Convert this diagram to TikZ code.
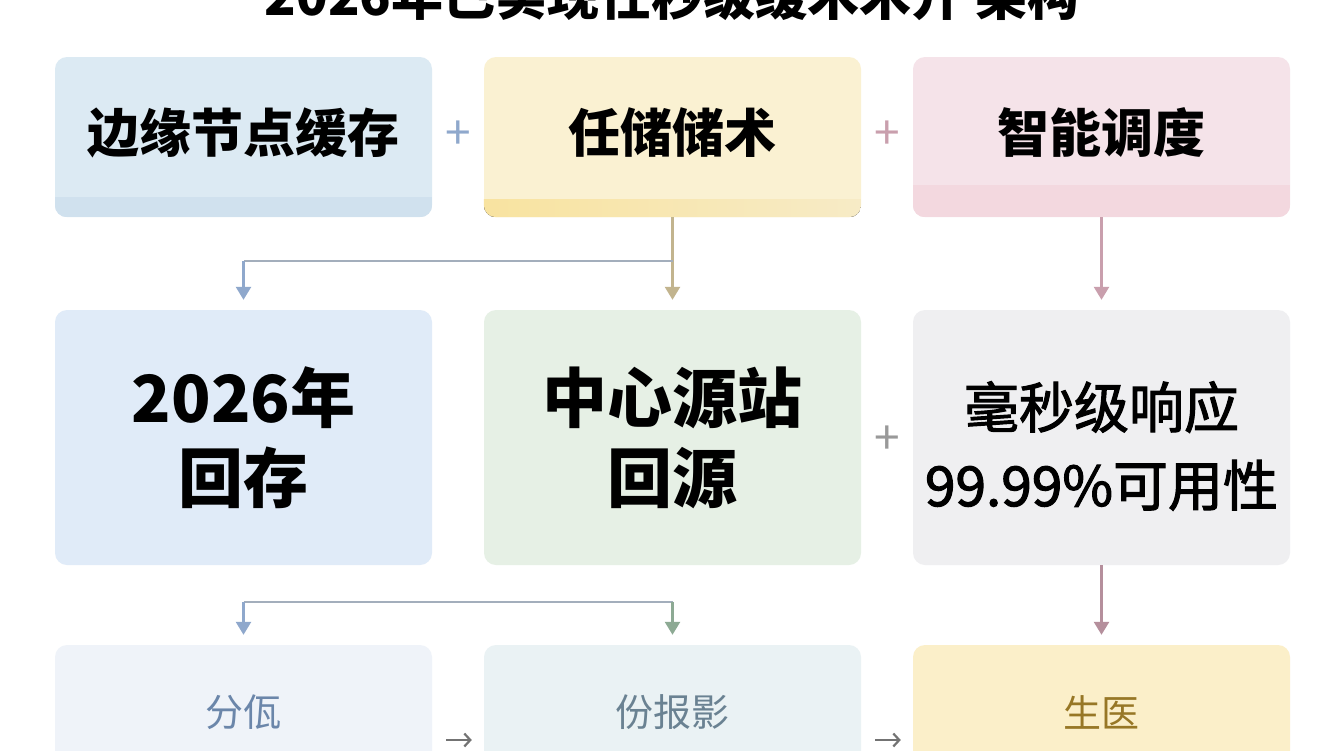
\documentclass[tikz,border=0pt]{standalone}
\usepackage{fontspec}
\newfontfamily\cjk{Noto Sans CJK SC}
\usetikzlibrary{arrows.meta}
\definecolor{eA}{HTML}{DCEAF3}\definecolor{eAb}{HTML}{D0E1EE}
\definecolor{eB}{HTML}{FAF1D2}\definecolor{eBl}{HTML}{F8E3A0}\definecolor{eBr}{HTML}{F7EBC6}
\definecolor{eC}{HTML}{F5E3E9}\definecolor{eCb}{HTML}{F3D8DF}
\definecolor{mA}{HTML}{E0EBF8}\definecolor{mB}{HTML}{E6F0E5}\definecolor{mC}{HTML}{EFEFF1}
\definecolor{bA}{HTML}{EFF3F9}\definecolor{bB}{HTML}{EAF2F4}\definecolor{bC}{HTML}{FBEFC9}
\definecolor{lblue}{HTML}{8FA8CC}\definecolor{ltan}{HTML}{C2B48E}\definecolor{lpink}{HTML}{C99FAD}
\definecolor{lgrey}{HTML}{A3AEBC}\definecolor{lgreen}{HTML}{8DAA94}
\definecolor{tA}{HTML}{6B86AA}\definecolor{tB}{HTML}{6A8292}\definecolor{tC}{HTML}{977726}
\tikzset{
  box/.style={rounded corners=12pt, minimum width=377pt, inner sep=0pt, align=center, font=\cjk},
  toprow/.style={box, minimum height=160pt},
  midrow/.style={box, minimum height=255pt},
  lowrow/.style={box, minimum height=190pt},
  conn/.style={line width=2.6pt, -{Triangle[width=15pt,length=13pt]}, shorten >=10pt},
  plain/.style={line width=2.8pt},
  plus/.style={font=\cjk\fontsize{46}{46}\selectfont, inner sep=0pt},
  smallarr/.style={line width=2.2pt, draw=black!55, -{Straight Barb[length=6pt,width=13pt]}, shorten <=14pt, shorten >=12pt}
}
\begin{document}
\begin{tikzpicture}[x=1pt,y=-1pt]
\clip (0,0) rectangle (1344,750);
\fill[white] (0,0) rectangle (1344,750);
% title
\node[anchor=base, inner sep=0pt, font=\cjk\bfseries\fontsize{52}{52}\selectfont] (title) at (672,15) {2026年已实现任秒级缓术术开 架构};
% row 1
\node[toprow, fill=eA] (e1) at (243.5,137) {};
\node[toprow, fill=eB] (e2) at (672.5,137) {};
\node[toprow, fill=eC] (e3) at (1101.5,137) {};
\begin{scope}
\clip[rounded corners=12pt] (e1.south west) rectangle (e1.north east);
\fill[eAb] (e1.south west) rectangle ++(377,-20);
\end{scope}
\begin{scope}
\clip[rounded corners=12pt] (e2.south west) rectangle (e2.north east);
\fill[left color=eBl, right color=eBr] (e2.south west) rectangle ++(377,-18);
\end{scope}
\begin{scope}
\clip[rounded corners=12pt] (e3.south west) rectangle (e3.north east);
\fill[eCb] (e3.south west) rectangle ++(377,-32);
\end{scope}
\node[font=\cjk\bfseries\fontsize{52}{52}\selectfont] (e1t) at (243.5,133) {边缘节点缓存};
\node[font=\cjk\bfseries\fontsize{52}{52}\selectfont] (e2t) at (672.5,133) {任储储术};
\node[font=\cjk\bfseries\fontsize{52}{52}\selectfont] (e3t) at (1101.5,133) {智能调度};
\node[plus, text=lblue] (p1) at (458.5,135) {+};
\node[plus, text=lpink] (p2) at (887,135) {+};
% row 2
\node[midrow, fill=mA, font=\cjk\bfseries\fontsize{65}{80}\selectfont] (m1) at (243.5,437.5) {2026年\\回存};
\node[midrow, fill=mB, font=\cjk\bfseries\fontsize{65}{80}\selectfont] (m2) at (672.5,437.5) {中心源站\\回源};
\node[midrow, fill=mC] (m3) at (1101.5,437.5) {};
\node[align=center, inner sep=0pt, font=\cjk\addfontfeatures{FakeBold=2}\fontsize{55}{78}\selectfont] (m3t) at (1101.5,446) {毫秒级响应\\99.99\%可用性};
\node[plus, text=black!40] (p3) at (887,440) {+};
% row 3
\node[lowrow, fill=bA] (b1) at (243.5,740) {};
\node[lowrow, fill=bB] (b2) at (672.5,740) {};
\node[lowrow, fill=bC] (b3) at (1101.5,740) {};
\node[font=\cjk\fontsize{38}{38}\selectfont, text=tA] (b1t) at (243.5,712) {分佤};
\node[font=\cjk\fontsize{38}{38}\selectfont, text=tB] (b2t) at (672.5,712) {份报影};
\node[font=\cjk\fontsize{38}{38}\selectfont, text=tC] (b3t) at (1101.5,712) {生医};
% connectors row1 -> row2
\coordinate (j1) at (672.5,261);
\coordinate (j2) at (243.5,261);
\draw[plain, ltan] (e2.south) -- (j1);
\draw[conn, ltan] (j1) -- (m2.north);
\draw[plain, lgrey] (j1) -- (j2);
\draw[conn, lblue] (j2) -- (m1.north);
\draw[conn, lpink] (e3.south) -- (m3.north);
% row2 -> row3
\coordinate (h1) at (243.5,602);
\coordinate (h2) at (672.5,602);
\draw[plain, lgrey] (h1) -- (h2);
\draw[conn, lblue] (h1) -- (b1.north);
\draw[conn, lgreen] (h2) -- (b2.north);
\draw[conn, lpink!90!black] (m3.south) -- (b3.north);
\draw[smallarr] (b1.east) -- (b2.west);
\draw[smallarr] (b2.east) -- (b3.west);
\end{tikzpicture}
\end{document}
